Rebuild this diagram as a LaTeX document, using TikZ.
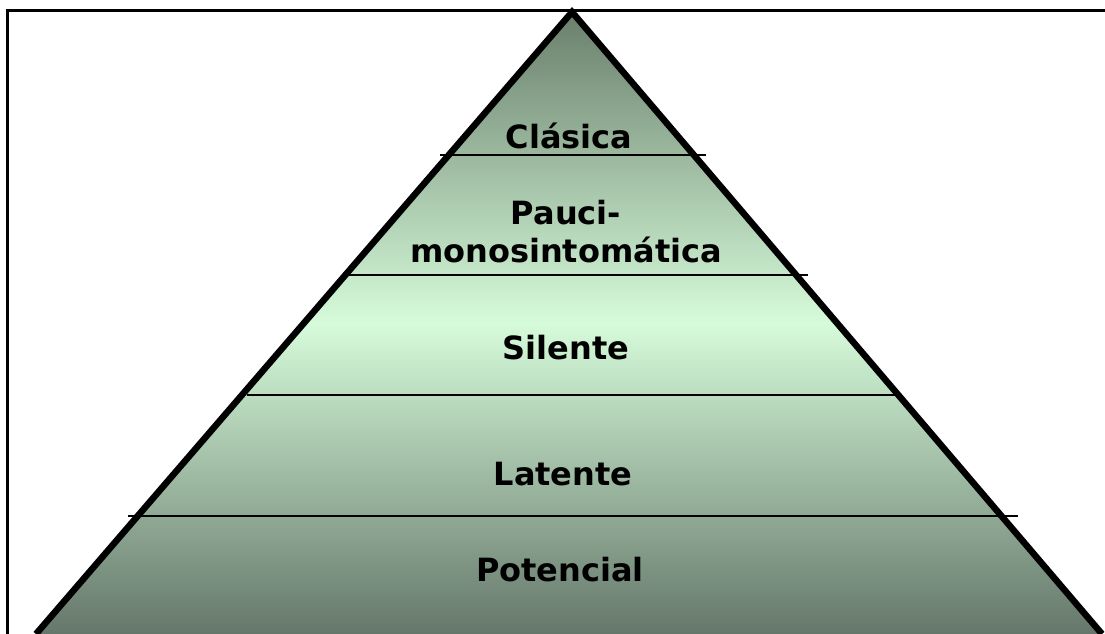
\documentclass[tikz,border=0pt]{standalone}
\usepackage{fontspec}
\setmainfont{DejaVu Sans}
\definecolor{pyrtop}{HTML}{6A7F6C}
\definecolor{pyrmid}{HTML}{D6FBDA}
\definecolor{pyrbot}{HTML}{65776A}
\begin{document}
\begin{tikzpicture}[x=1pt,y=-1pt,
  lvl/.style={font=\fontsize{32}{38}\selectfont\bfseries, text=black, anchor=base, inner sep=0pt},
  divider/.style={line width=2pt, draw=black},
  frame/.style={line width=3pt, draw=black},
  pyredge/.style={line width=6.5pt, draw=black, line join=miter}]
\useasboundingbox (0,0) rectangle (1105,633);
% frame
\coordinate (fb) at (7,634);
\coordinate (ftl) at (7,10);
\coordinate (ftr) at (1106,10);
\draw[frame] (fb) -- (ftl) -- (ftr);
% pyramid
\coordinate (apex) at (572,12);
\coordinate (bl) at (36,634);
\coordinate (br) at (1102,634);
\shade[top color=pyrtop, bottom color=pyrbot, middle color=pyrmid] (apex) -- (br) -- (bl) -- cycle;
\draw[pyredge] (bl) -- (apex) -- (br);
% dividers
\coordinate (d1l) at (440,155); \coordinate (d1r) at (706,155);
\coordinate (d2l) at (345,275); \coordinate (d2r) at (808,275);
\coordinate (d3l) at (247,395); \coordinate (d3r) at (898,395);
\coordinate (d4l) at (128,516); \coordinate (d4r) at (1018,516);
\draw[divider] (d1l) -- (d1r);
\draw[divider] (d2l) -- (d2r);
\draw[divider] (d3l) -- (d3r);
\draw[divider] (d4l) -- (d4r);
% labels
\node[lvl] (clasica) at (569,148) {Clásica};
\node[lvl] (pauci) at (566,224) {Pauci-};
\node[lvl] (mono) at (566,262) {monosintomática};
\node[lvl] (silente) at (566,359) {Silente};
\node[lvl] (latente) at (563,485) {Latente};
\node[lvl] (potencial) at (560,581) {Potencial};
\end{tikzpicture}
\end{document}
